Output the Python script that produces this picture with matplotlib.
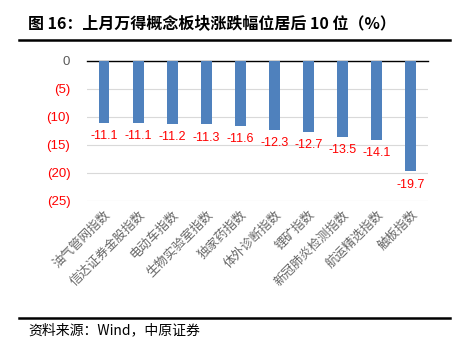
import matplotlib
matplotlib.use("Agg")
import matplotlib.pyplot as plt
from matplotlib.lines import Line2D

plt.rcParams['font.family'] = ['Noto Sans CJK SC', 'DejaVu Sans']

# 数据
categories = ["油气管网指数", "信达证券金股指数", "电动车指数", "生物实验室指数", "独家药指数",
              "体外诊断指数", "锂矿指数", "新冠肺炎检测指数", "航运精选指数", "触板指数"]
values = [-11.1, -11.1, -11.2, -11.3, -11.6, -12.3, -12.7, -13.5, -14.1, -19.7]
yticks = [0, -5, -10, -15, -20, -25]
ytick_labels = ["0", "(5)", "(10)", "(15)", "(20)", "(25)"]

fig = plt.figure(figsize=(4.6, 3.52), dpi=100)
ax = fig.add_axes([0.189, 0.429, 0.741, 0.398])

x = range(len(categories))
ax.bar(x, values, width=0.32, color="#4f81bd", zorder=3)
for i, v in zip(x, values):
    ax.text(i, v - 1.3, f"{v:.1f}", ha="center", va="top", color="#ff0000",
            fontsize=9, family=["Liberation Sans", "DejaVu Sans"])

ax.set_xlim(-0.5, len(categories) - 0.5)
ax.set_ylim(-25, 0)
ax.set_yticks(yticks)
ax.set_yticklabels(ytick_labels, fontsize=9.5, family=["Liberation Sans", "DejaVu Sans"])
for lab, v in zip(ax.get_yticklabels(), yticks):
    lab.set_color("#595959" if v == 0 else "#ff0000")
ax.set_xticks(list(x))
ax.set_xticklabels(categories, rotation=45, ha="right", rotation_mode="anchor",
                   fontsize=9, color="#666666")
ax.tick_params(axis="both", length=0)
ax.tick_params(axis="y", pad=12)
ax.tick_params(axis="x", pad=5)
for s in ["left", "right", "bottom"]:
    ax.spines[s].set_visible(False)
ax.spines["top"].set_color("black")
ax.spines["top"].set_linewidth(1.0)
ax.set_axisbelow(True)
ax.yaxis.grid(True, color="#d9d9d9", linewidth=0.8)

fig.text(0.06, 0.935, "图 16：上月万得概念板块涨跌幅位居后 10 位（%）", fontsize=11.5,
         fontweight="bold", va="center")
fig.add_artist(Line2D([0.041, 0.978], [0.886, 0.886], color="black", linewidth=1.8))
fig.add_artist(Line2D([0.041, 0.978], [0.097, 0.097], color="black", linewidth=1.8))
fig.text(0.061, 0.062, "资料来源：Wind，中原证券", fontsize=10, va="center")

fig.savefig("out.png", dpi=100)
